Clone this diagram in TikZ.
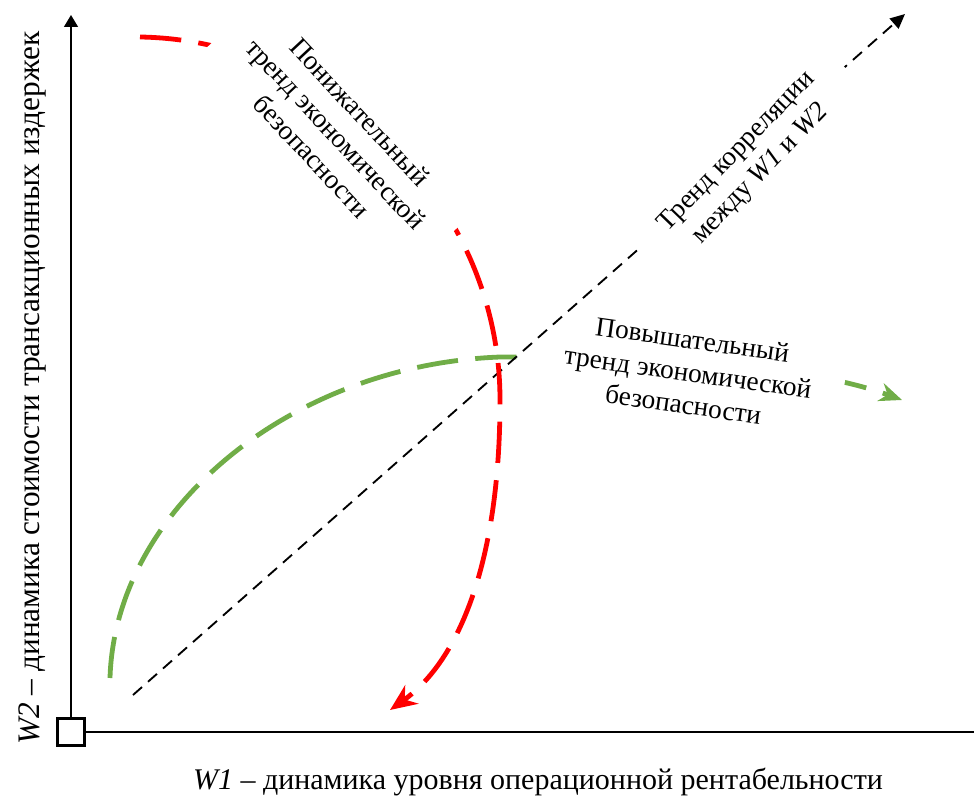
\documentclass[tikz,border=0pt]{standalone}
\usepackage{fontspec}
\setmainfont{Liberation Serif}
\usetikzlibrary{arrows.meta, positioning}
\definecolor{trendred}{RGB}{255,0,0}
\definecolor{trendgreen}{RGB}{112,173,71}
\tikzstyle{axis} = [line width=1pt, -{Triangle[width=10.5pt, length=9pt]}, black]
\tikzstyle{originbox} = [rectangle, draw, line width=1.8pt, minimum size=20pt, inner sep=0pt, fill=white]
\tikzstyle{corr} = [line width=1.4pt, dash pattern=on 9pt off 6pt, -{Triangle[width=10pt, length=11pt]}, black]
\tikzstyle{downtrend} = [line width=3.6pt, dash pattern=on 31pt off 13pt, -{Stealth[length=20pt, width=17pt]}, trendred]
\tikzstyle{uptrend} = [line width=3.6pt, dash pattern=on 31pt off 13pt, -{Stealth[length=17pt, width=14pt]}, trendgreen]
\tikzstyle{trendlabel} = [fill=white, align=center, font=\fontsize{20.5}{24.5}\selectfont]
\tikzstyle{axislabel} = [font=\fontsize{22.5}{27}\selectfont]

\begin{document}
\begin{tikzpicture}[x=0.75pt, y=-0.75pt]
	\useasboundingbox (0,0) rectangle (974,802);

	% Axes
	\node (origin) [originbox] at (71,732) {};
	\coordinate (ytop) at (71,15);
	\coordinate (xend) at (988,732);
	\draw[axis] (origin.north) -- (ytop);
	\draw[axis] (origin.east) -- (xend);

	% Axis labels
	\node (w1label) [axislabel] at (538,782) {\textit{W1} – динамика уровня операционной рентабельности};
	\node (w2label) [axislabel, font=\fontsize{23.5}{28}\selectfont, rotate=90] at (32,388) {\textit{W2} – динамика стоимости трансакционных издержек};

	% Key points
	\coordinate (cross) at (500,357);
	\coordinate (greenstart) at (110,678);
	\coordinate (greenend) at (902,400);
	\coordinate (redstart) at (140,37);
	\coordinate (redmid) at (500,400);
	\coordinate (redend) at (390,710);
	\coordinate (diagstart) at (133,695);
	\coordinate (diagend) at (905,14);

	% Rising trend
	\draw[uptrend] (greenstart) .. controls (115,510) and (290,365) .. (cross) .. controls (700,357) and (820,370) .. (greenend);
	\node (uplabel) [trendlabel, rotate=-8, inner xsep=24pt] at (688,372) {Повышательный\\тренд экономической\\безопасности};

	% Correlation trend
	\draw[corr] (diagstart) -- (diagend);
	\node (corrlabel) [trendlabel, rotate=46, inner xsep=22pt] at (749,163) {Тренд корреляции\\между \textit{W1} и \textit{W2}};

	% Falling trend
	\draw[downtrend] (redstart) .. controls (330,40) and (500,200) .. (redmid) .. controls (500,560) and (460,660) .. (redend);
	\node (downlabel) [trendlabel, rotate=-47, inner xsep=20pt] at (336,134) {Понижательный\\тренд экономической\\безопасности};

\end{tikzpicture}
\end{document}
